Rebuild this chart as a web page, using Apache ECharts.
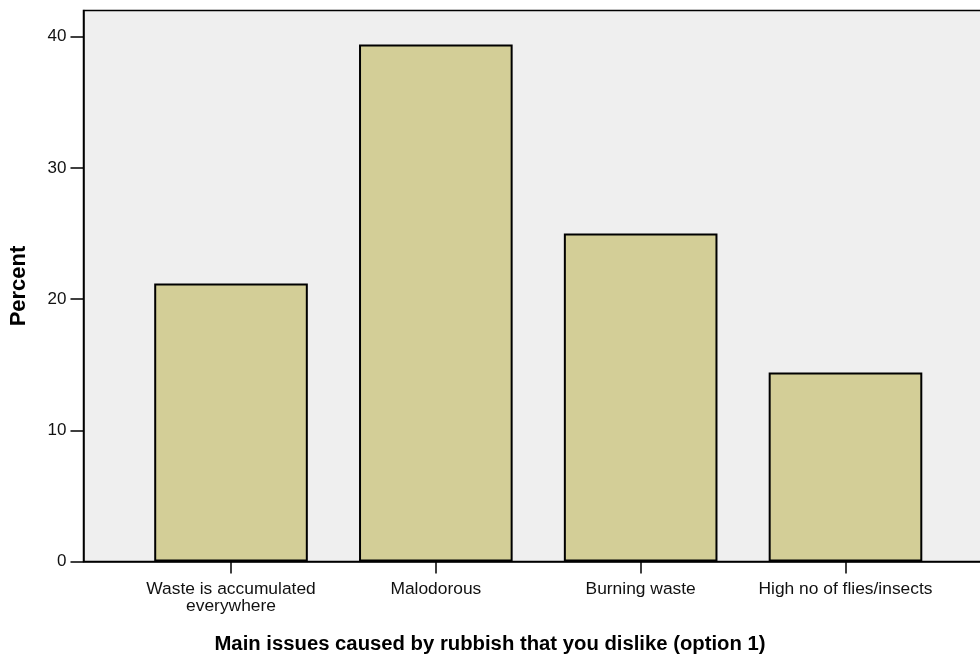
<!DOCTYPE html>
<html>
<head>
<meta charset="utf-8">
<script src="https://cdn.jsdelivr.net/npm/echarts@6/dist/echarts.min.js"></script>
<style>html,body{margin:0;padding:0;background:#fff}#c{width:980px;height:659px}</style>
</head>
<body>
<div id="c"></div>
<script>
const categories = ['Waste is accumulated\neverywhere', 'Malodorous', 'Burning waste', 'High no of flies/insects'];
const percentValues = [21.2, 39.4, 25.0, 14.4];
const yTicks = [0, 10, 20, 30, 40];
const xTitle = 'Main issues caused by rubbish that you dislike (option 1)';
const yTitle = 'Percent';

const chart = echarts.init(document.getElementById('c'), null, {renderer: 'canvas'});
const FONT = '"Liberation Sans", Arial, sans-serif';
const TOP = 10.5, BOTTOM = 97.5, YMAX = 42;
chart.setOption({
  animation: false,
  backgroundColor: '#ffffff',
  title: {
    text: xTitle, left: 'center', top: 629,
    textStyle: {fontFamily: FONT, fontWeight: 'bold', fontSize: 20.3, color: '#000'}
  },
  grid: [
    {left: 83.5, right: -3, top: TOP, bottom: BOTTOM, outerBoundsMode: 'none', containLabel: false, show: true, backgroundColor: '#efefef', borderColor: '#000', borderWidth: 1.5},
    {left: 128.6, right: 32.1, top: TOP, bottom: BOTTOM, outerBoundsMode: 'none', containLabel: false}
  ],
  xAxis: [
    {gridIndex: 0, type: 'value', min: 0, max: 1, axisLine: {show: true, lineStyle: {color: '#000', width: 1.5}}, axisTick: {show: false}, axisLabel: {show: false}, splitLine: {show: false}},
    {gridIndex: 1, type: 'category', data: categories, axisLine: {show: false},
     axisTick: {show: true, length: 12, alignWithLabel: true, lineStyle: {color: '#000', width: 1.5}},
     axisLabel: {margin: 19, fontFamily: FONT, fontSize: 17.4, lineHeight: 17, color: '#111', interval: 0},
     splitLine: {show: false}}
  ],
  yAxis: [
    {gridIndex: 0, type: 'value', min: 0, max: YMAX, interval: 10,
     name: yTitle, nameLocation: 'middle', nameRotate: 90, nameGap: 54,
     nameTextStyle: {fontFamily: FONT, fontWeight: 'bold', fontSize: 22, color: '#000'},
     axisLine: {show: true, lineStyle: {color: '#000', width: 1.5}},
     axisTick: {show: true, length: 13, customValues: yTicks, lineStyle: {color: '#000', width: 1.5}},
     axisLabel: {margin: 17, fontFamily: FONT, fontSize: 17, color: '#111', customValues: yTicks},
     splitLine: {show: false}},
    {gridIndex: 1, type: 'value', min: 0, max: YMAX, show: false, splitLine: {show: false}}
  ],
  series: [{
    type: 'bar', xAxisIndex: 1, yAxisIndex: 1, data: percentValues, barWidth: '75%',
    itemStyle: {color: '#d3ce97', borderColor: '#000', borderWidth: 2}
  }]
});
</script>
</body>
</html>
